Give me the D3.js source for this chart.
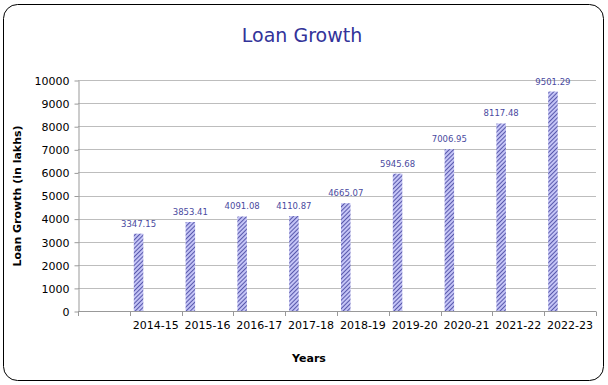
<!DOCTYPE html>
<html>
<head>
<meta charset="utf-8">
<script src="https://cdn.jsdelivr.net/npm/d3@7"></script>
<style>
  body { margin: 0; background: #fff; }
  text { font-family: "DejaVu Sans", Verdana, sans-serif; }
</style>
</head>
<body>
<svg id="chart" width="608" height="385"></svg>
<script>
// Data
const years = ["2014-15", "2015-16", "2016-17", "2017-18", "2018-19", "2019-20", "2020-21", "2021-22", "2022-23"];
const loans = [3347.15, 3853.41, 4091.08, 4110.87, 4665.07, 5945.68, 7006.95, 8117.48, 9501.29];
const yTicks = [0, 1000, 2000, 3000, 4000, 5000, 6000, 7000, 8000, 9000, 10000];

const svg = d3.select("#chart");

// Outer frame
svg.append("rect")
  .attr("x", 3.5).attr("y", 4.5)
  .attr("width", 600).attr("height", 376)
  .attr("rx", 14).attr("ry", 14)
  .attr("fill", "#fff")
  .attr("stroke", "#000")
  .attr("stroke-width", 1);

// Hatch pattern
const defs = svg.append("defs");
const pat = defs.append("pattern")
  .attr("id", "hatch")
  .attr("patternUnits", "userSpaceOnUse")
  .attr("width", 3).attr("height", 3)
  .attr("patternTransform", "rotate(45)");
pat.append("rect").attr("width", 3).attr("height", 3).attr("fill", "#c4c4f6");
pat.append("line").attr("x1", 0).attr("y1", 0).attr("x2", 0).attr("y2", 3)
  .attr("stroke", "#2a2a8c").attr("stroke-width", 1.4);

// Scales: first category left empty like the original
const x = d3.scaleBand()
  .domain([""].concat(years))
  .range([78, 596])
  .padding(0);

const y = d3.scaleLinear()
  .domain([0, 10000])
  .range([311, 80]);

// Gridlines
svg.append("g")
  .selectAll("line")
  .data(yTicks.filter(d => d > 0))
  .join("line")
  .attr("x1", 78).attr("x2", 596)
  .attr("y1", d => Math.round(y(d)) + 0.5)
  .attr("y2", d => Math.round(y(d)) + 0.5)
  .attr("stroke", "#bdbdbd")
  .attr("stroke-width", 1);

// Y axis
const yAxis = svg.append("g")
  .attr("transform", "translate(78.5,0.5)")
  .call(d3.axisLeft(y).tickValues(yTicks).tickFormat(d3.format("d")).tickSize(4).tickSizeOuter(0));
yAxis.select(".domain").attr("stroke", "#999");
yAxis.selectAll(".tick line").attr("stroke", "#999");
yAxis.selectAll(".tick text")
  .attr("font-size", "11px")
  .attr("fill", "#000")
  .attr("x", -9)
  .attr("dy", "0.35em");

// X axis line + ticks at band boundaries
svg.append("line")
  .attr("x1", 78).attr("x2", 596)
  .attr("y1", 311.5).attr("y2", 311.5)
  .attr("stroke", "#999");

svg.append("g")
  .selectAll("line")
  .data(x.domain().concat(["end"]))
  .join("line")
  .attr("x1", (d, i) => Math.round(78 + i * x.step()) + 0.5)
  .attr("x2", (d, i) => Math.round(78 + i * x.step()) + 0.5)
  .attr("y1", 311.5).attr("y2", 316)
  .attr("stroke", "#999");

// X labels
svg.append("g")
  .selectAll("text")
  .data(years)
  .join("text")
  .attr("x", d => x(d) + x.bandwidth() / 2)
  .attr("y", 329)
  .attr("text-anchor", "middle")
  .attr("font-size", "11px")
  .attr("fill", "#000")
  .text(d => d);

// Bars
const barW = 9.5;
svg.append("g")
  .selectAll("rect")
  .data(years.map((yr, i) => ({ year: yr, value: loans[i] })))
  .join("rect")
  .attr("x", d => x(d.year) + 4)
  .attr("y", d => y(d.value))
  .attr("width", barW)
  .attr("height", d => y(0) - y(d.value))
  .attr("fill", "url(#hatch)");

// Value labels
svg.append("g")
  .selectAll("text")
  .data(years.map((yr, i) => ({ year: yr, value: loans[i] })))
  .join("text")
  .attr("x", d => x(d.year) + 4 + barW / 2)
  .attr("y", d => y(d.value) - 7)
  .attr("text-anchor", "middle")
  .attr("font-size", "8.5px")
  .attr("fill", "#4a4aa0")
  .text(d => d.value.toFixed(2));

// Title
svg.append("text")
  .attr("x", 302)
  .attr("y", 42)
  .attr("text-anchor", "middle")
  .attr("font-size", "19px")
  .attr("fill", "#333399")
  .text("Loan Growth");

// Axis titles
svg.append("text")
  .attr("transform", "rotate(-90)")
  .attr("x", -196)
  .attr("y", 21)
  .attr("text-anchor", "middle")
  .attr("font-size", "11px")
  .attr("font-weight", "bold")
  .attr("fill", "#000")
  .text("Loan Growth (in lakhs)");

svg.append("text")
  .attr("x", 309)
  .attr("y", 362)
  .attr("text-anchor", "middle")
  .attr("font-size", "11px")
  .attr("font-weight", "bold")
  .attr("fill", "#000")
  .text("Years");
</script>
</body>
</html>
